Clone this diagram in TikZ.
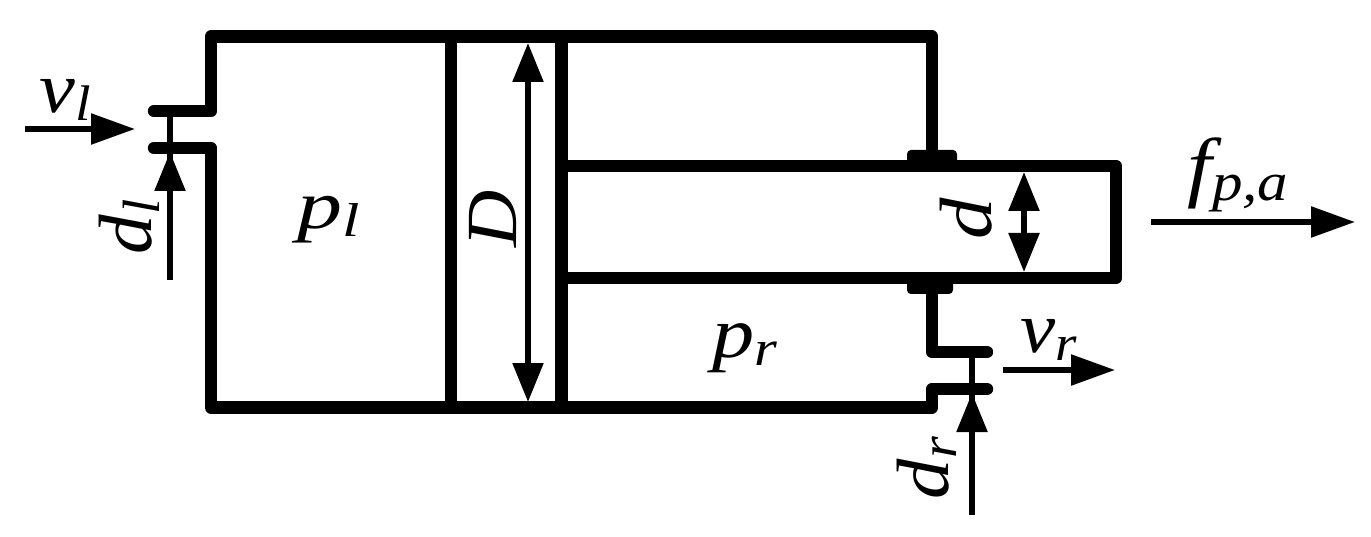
\documentclass[tikz,border=0pt]{standalone}
\usepackage{fontspec}
\setmainfont{Liberation Serif}
\usetikzlibrary{arrows.meta}
\newcommand{\lab}[2]{\fontsize{72}{72}\selectfont\itshape #1\fontsize{50}{50}\selectfont\raisebox{-8pt}{#2}}
\tikzset{
  wall/.style={line width=12.4pt,line cap=round,line join=round,black},
  seal/.style={fill=black,rounded corners=4pt,draw=none},
  thin/.style={line width=5.5pt,black},
  tipA/.style={-{Triangle[length=44pt,width=30pt]}},
  tipB/.style={-{Triangle[length=39pt,width=30pt]}},
  both/.style={{Triangle[length=39pt,width=30pt]}-{Triangle[length=39pt,width=30pt]}},
  txt/.style={inner sep=0pt,outer sep=0pt}
}
\begin{document}
\begin{tikzpicture}[x=1pt,y=-1pt]
\useasboundingbox (0,0) rectangle (1371,537);
\fill[white] (0,0) rectangle (1371,537);
% cylinder
\draw[wall] (154,111) -- (211,111) -- (211,36.5) -- (932,36.5) -- (932,160);
\draw[wall] (154,148) -- (211,148) -- (211,407.5) -- (932,407.5) -- (932,389) -- (987,389);
\draw[wall] (932,285) -- (932,352) -- (987,352);
% piston
\draw[wall,line cap=butt] (451,36.5) -- (451,407.5);
\draw[wall,line cap=butt] (561.5,36.5) -- (561.5,407.5);
% rod
\draw[wall] (561.5,166) -- (1116,166) -- (1116,278) -- (561.5,278);
% seals
\fill[seal] (907,150) rectangle (957,168);
\fill[seal] (907,276) rectangle (953,294);
% valve stems
\draw[thin] (170,111) -- (170,280);
\draw[thin] (972,352) -- (972,515);
% arrows
\coordinate (vla) at (25,129); \coordinate (vlb) at (135,129);
\draw[thin,tipA] (vla) -- (vlb);
\coordinate (dla) at (170,230); \coordinate (dlb) at (170,152);
\draw[thin,tipB] (dla) -- (dlb);
\coordinate (Da) at (528,43); \coordinate (Db) at (528,402);
\draw[thin,both] (Da) -- (Db);
\coordinate (da) at (1024,172); \coordinate (db) at (1024,272);
\draw[thin,both] (da) -- (db);
\coordinate (vra) at (1003,370); \coordinate (vrb) at (1115,370);
\draw[thin,tipA] (vra) -- (vrb);
\coordinate (dra) at (972,470); \coordinate (drb) at (972,393);
\draw[thin,tipB] (dra) -- (drb);
\coordinate (fa) at (1151,222); \coordinate (fb) at (1355,222);
\draw[thin,tipA] (fa) -- (fb);
% labels
\node[txt,xscale=1.12] (vl) at (65,100) {\lab{v}{l}};
\node[txt,xscale=1.05,yscale=1.1,rotate=90] (dl) at (129,227) {\lab{d}{l}};
\node[txt,xscale=1.25,yscale=.95] (pl) at (329,220) {\lab{p}{l}};
\node[txt,xscale=1,yscale=1.1,rotate=90] (D) at (497,219) {\lab{D}{}};
\node[txt,xscale=1.03,yscale=1.15,rotate=90] (d) at (970,219) {\lab{d}{}};
\node[txt,xscale=1.17] (pr) at (745,348) {\lab{p}{r}};
\node[txt,xscale=1.1] (vr) at (1049,340) {\lab{v}{r}};
\node[txt,xscale=1.03,yscale=1.12,rotate=90] (dr) at (927,468) {\lab{d}{r}};
\node[txt,xscale=1.22,yscale=1.08] (f) at (1238,175) {\lab{f}{p,a}};
\end{tikzpicture}
\end{document}
